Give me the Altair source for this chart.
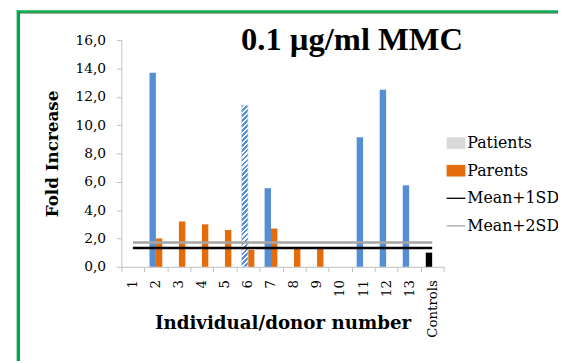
import altair as alt
import pandas as pd

# ---------------- data ----------------
donors = ["1", "2", "3", "4", "5", "6", "7", "8", "9", "10", "11", "12", "13", "Controls"]
patients = [None, 13.7, None, None, None, 11.4, 5.55, None, None, None, 9.15, 12.5, 5.75, None]
parents = [None, 2.0, 3.2, 3.0, 2.6, 1.2, 2.7, 1.3, 1.3, None, None, None, None, None]
controls = [None] * 13 + [1.0]
hatched_donors = ["6"]
mean_plus_1sd = 1.33
mean_plus_2sd = 1.72
legend_items = ["Patients", "Parents", "Mean+1SD", "Mean+2SD"]
y_ticks = [0, 2, 4, 6, 8, 10, 12, 14, 16]
title_text = "0.1 µg/ml MMC"

rows = []
for d, pa, pr, c in zip(donors, patients, parents, controls):
    if pa is not None:
        rows.append({"donor": d, "slot": "Patients", "group": "Patients", "value": pa,
                     "hatched": d in hatched_donors})
    if pr is not None:
        rows.append({"donor": d, "slot": "Parents", "group": "Parents", "value": pr,
                     "hatched": False})
    if c is not None:
        rows.append({"donor": d, "slot": "Patients", "group": "Controls", "value": c,
                     "hatched": False})
bars_df = pd.DataFrame(rows)

lines_df = pd.DataFrame([
    {"donor": donors[0], "series": "Mean+1SD", "value": mean_plus_1sd},
    {"donor": donors[-1], "series": "Mean+1SD", "value": mean_plus_1sd},
    {"donor": donors[0], "series": "Mean+2SD", "value": mean_plus_2sd},
    {"donor": donors[-1], "series": "Mean+2SD", "value": mean_plus_2sd},
])
legend_df = pd.DataFrame({"series": legend_items})
dummy = pd.DataFrame({"k": [0]})

# ---------------- style ----------------
W, H = 327, 230
FONT = "DejaVu Serif"
AXIS_GRAY = "#bfbfbf"
BLUE = "#558ed5"
ORANGE = "#e46c0a"
OFFSET_PAD = 0.8

# hatch gradient (diagonal stripes) for the hatched bar
bar_w = W / len(donors) / (2 + 2 * OFFSET_PAD)
hv = [v for d, v in zip(donors, patients) if d in hatched_donors][0]
bar_h = hv * H / 16
r = bar_w / bar_h
b = (bar_w + bar_h) / (bar_h * (1 + r * r))
a = r * b
n = int(round((bar_w + bar_h) / 5.0))
stops = []
for i in range(n):
    o0, o1, o2 = i / n, (i + 0.55) / n, (i + 1) / n
    stops += [alt.GradientStop(offset=o0, color=BLUE), alt.GradientStop(offset=o1, color=BLUE),
              alt.GradientStop(offset=o1, color="#ffffff"), alt.GradientStop(offset=o2, color="#ffffff")]
hatch = alt.LinearGradient(gradient="linear", stops=stops, x1=0, y1=0, x2=a, y2=b)

x_scale = alt.Scale(domain=donors, paddingInner=0, paddingOuter=0)
y_scale = alt.Scale(domain=[0, 16], nice=False)
x_axis = alt.Axis(title="Individual/donor number", labelAngle=270, tickBand="extent",
                  domainColor=AXIS_GRAY, tickColor=AXIS_GRAY, tickSize=5,
                  labelPadding=8, labelFont=FONT, labelFontSize=13.5, labelColor="#000000",
                  titleFont=FONT, titleFontSize=18.5, titleFontWeight="bold",
                  titleColor="#000000", titleBaseline="alphabetic", titleY=63)
y_axis = alt.Axis(title="Fold Increase", values=y_ticks, tickCount=9, grid=False, labelOverlap=False,
                  labelExpr="replace(format(datum.value, '.1f'), '.', ',')",
                  domainColor=AXIS_GRAY, tickColor=AXIS_GRAY, tickSize=5,
                  labelPadding=11, labelFont=FONT, labelFontSize=14, labelColor="#000000",
                  titleFont=FONT, titleFontSize=17, titleFontWeight="bold",
                  titleColor="#000000", titleX=-61, titleY=H / 2)
x_enc = alt.X("donor:N", sort=donors, scale=x_scale, axis=x_axis)
y_enc = alt.Y("value:Q", scale=y_scale, axis=y_axis)
xo_enc = alt.XOffset("slot:N", scale=alt.Scale(domain=["Patients", "Parents"],
                                              paddingInner=0, paddingOuter=OFFSET_PAD))

bars = alt.Chart(bars_df).transform_filter("!datum.hatched").mark_bar().encode(
    x=x_enc, xOffset=xo_enc, y=y_enc,
    color=alt.Color("group:N", scale=alt.Scale(domain=["Patients", "Parents", "Controls"],
                                               range=[BLUE, ORANGE, "#000000"]), legend=None),
)

hatched = alt.Chart(bars_df).transform_filter("datum.hatched").mark_bar(
    fill=hatch, stroke="#c6d9f1", strokeWidth=0.8
).encode(x=x_enc, xOffset=xo_enc, y=y_enc)

legend_colors = ["#d9d9d9", ORANGE, "#000000", "#a6a6a6"]
lines = alt.Chart(lines_df).mark_line(strokeWidth=2.5).encode(
    x=x_enc, y=y_enc,
    color=alt.Color("series:N", scale=alt.Scale(domain=legend_items, range=legend_colors), legend=None),
)

box = "M-1,-0.62H1V0.62H-1Z"
stroke = "M-1,-0.07H1V0.07H-1Z"
leg = alt.Legend(title=None, orient="none", legendX=330, legendY=95, padding=0,
                 symbolSize=361, symbolOpacity=1, symbolStrokeWidth=0,
                 labelFont=FONT, labelFontSize=16, labelColor="#000000", labelOffset=2,
                 rowPadding=10, labelLimit=200)
legend_layer = alt.Chart(legend_df).mark_point(filled=True, opacity=0).encode(
    x=alt.value(0), y=alt.value(0),
    color=alt.Color("series:N", scale=alt.Scale(domain=legend_items, range=legend_colors), legend=leg),
    shape=alt.Shape("series:N", scale=alt.Scale(domain=legend_items, range=[box, box, stroke, stroke]),
                    legend=leg),
)

title = alt.Chart(dummy).mark_text(
    text=title_text, font="Liberation Serif", fontSize=33, fontWeight="bold",
    align="center", baseline="alphabetic", color="#000000"
).encode(x=alt.value(234), y=alt.value(10))

border_top = alt.Chart(dummy).mark_rule(color="#00b050", strokeWidth=2.5).encode(
    x=alt.value(-106), x2=alt.value(460), y=alt.value(-29))
border_top_in = alt.Chart(dummy).mark_rule(color="#1d6b36", strokeWidth=1).encode(
    x=alt.value(-104), x2=alt.value(460), y=alt.value(-27.5))
border_left = alt.Chart(dummy).mark_rule(color="#00b050", strokeWidth=2.5).encode(
    x=alt.value(-105), y=alt.value(-30), y2=alt.value(330))
border_left_in = alt.Chart(dummy).mark_rule(color="#1d6b36", strokeWidth=1).encode(
    x=alt.value(-103.5), y=alt.value(-28), y2=alt.value(330))

chart = alt.layer(
    bars, hatched, lines, legend_layer, title,
    border_top, border_left, border_top_in, border_left_in
).resolve_scale(color="independent", shape="independent").properties(
    width=W, height=H,
    padding={"left": 115, "top": 30, "right": 116, "bottom": 93},
    autosize=alt.AutoSizeParams(type="none"),
    background="#ffffff",
).configure_view(stroke=None)

chart.save("out.html", embed_options={"renderer": "svg", "actions": False})
